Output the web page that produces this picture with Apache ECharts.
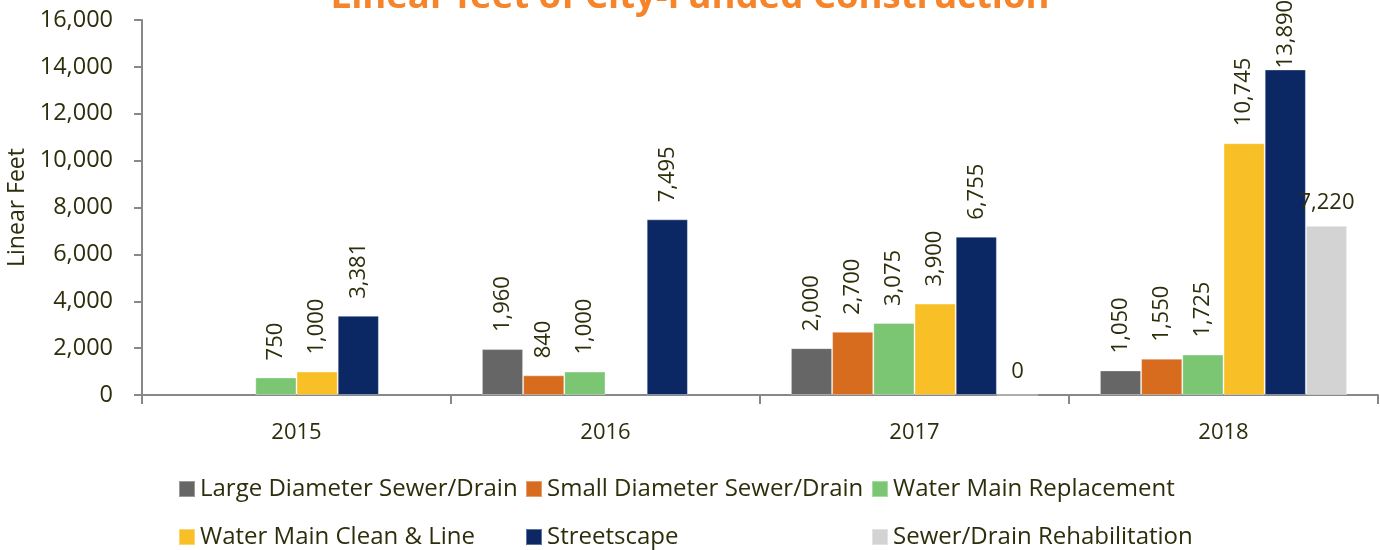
<!DOCTYPE html>
<html>
<head>
<meta charset="utf-8">
<title>Linear feet of City-Funded Construction</title>
<script src="https://cdn.jsdelivr.net/npm/echarts@6/dist/echarts.min.js"></script>
<style>
  html, body { margin: 0; padding: 0; background: #fff; }
  #chart { width: 1380px; height: 550px; }
</style>
</head>
<body>
<div id="chart"></div>
<script>
// years on the x axis
const years = ['2015', '2016', '2017', '2018']

// series values (null = no bar)
const largeDiameter = [null, 1960, 2000, 1050]
const smallDiameter = [null, 840, 2700, 1550]
const waterMainReplacement = [750, 1000, 3075, 1725]
const waterMainCleanLine = [1000, null, 3900, 10745]
const streetscape = [3381, 7495, 6755, 13890]
const sewerRehab = [null, null, 0, 7220]

const seriesNames = [
  'Large Diameter Sewer/Drain',
  'Small Diameter Sewer/Drain',
  'Water Main Replacement',
  'Water Main Clean & Line',
  'Streetscape',
  'Sewer/Drain Rehabilitation'
]
const seriesColors = ['#666666', '#D76B1E', '#7AC673', '#F8BF26', '#0B2864', '#D3D3D3']
const seriesData = [largeDiameter, smallDiameter, waterMainReplacement, waterMainCleanLine, streetscape, sewerRehab]

const textColor = '#2E2E0C'
const font = 'Open Sans'

function fmt (v) {
  return v.toLocaleString('en-US')
}

function buildData (values, i) {
  return values.map(function (v, j) {
    if (v === null) return null
    // sewer rehab labels are flat in the original
    if (i === 5) {
      return { value: v, label: { rotate: 0, align: 'center', verticalAlign: 'bottom', distance: 12 } }
    }
    // 2018 streetscape label hugs the bar top (no room above)
    if (i === 4 && j === 3) {
      return { value: v, label: { distance: 1 } }
    }
    return v
  })
}

const series = seriesData.map(function (values, i) {
  return {
    name: seriesNames[i],
    type: 'bar',
    data: buildData(values, i),
    barGap: 0,
    barCategoryGap: '20%',
    itemStyle: { color: seriesColors[i], borderColor: 'rgba(255,255,255,0.35)', borderWidth: 1 },
    label: {
      show: true,
      position: 'top',
      rotate: 90,
      align: 'left',
      verticalAlign: 'middle',
      distance: 17,
      color: textColor,
      fontFamily: font,
      fontSize: 22,
      formatter: function (p) { return fmt(p.value) }
    }
  }
})

// one legend per entry to keep the grid of columns
const legendPos = [
  [178, 477], [525, 477], [871, 477],
  [178, 525], [525, 525], [871, 525]
]
const legends = seriesNames.map(function (name, i) {
  return {
    data: [name],
    left: legendPos[i][0],
    top: legendPos[i][1],
    padding: 0,
    itemWidth: 16,
    itemHeight: 16,
    itemGap: 0,
    icon: 'rect',
    selectedMode: false,
    textStyle: { color: textColor, fontFamily: font, fontSize: 24, padding: [0, 0, 0, 0] }
  }
})

const chart = echarts.init(document.getElementById('chart'))
chart.setOption({
  animation: false,
  title: {
    text: 'Linear feet of City-Funded Construction',
    left: 'center',
    top: -26,
    textStyle: { color: '#F5842A', fontFamily: font, fontSize: 36.5, fontWeight: 'bold' }
  },
  legend: legends,
  grid: { left: 142, right: 2, top: 20, bottom: 155, containLabel: false, outerBoundsMode: 'none' },
  xAxis: {
    type: 'category',
    data: years,
    axisLine: { lineStyle: { color: '#888888', width: 2 } },
    axisTick: { show: true, length: 9, lineStyle: { color: '#888888', width: 2 } },
    axisLabel: { color: textColor, fontFamily: font, fontSize: 22, margin: 27 }
  },
  yAxis: {
    type: 'value',
    min: 0,
    max: 16000,
    interval: 2000,
    name: 'Linear Feet',
    nameLocation: 'middle',
    nameGap: 108,
    nameTextStyle: { color: textColor, fontFamily: font, fontSize: 23 },
    axisLine: { show: true, lineStyle: { color: '#888888', width: 2 } },
    axisTick: { show: true, length: 8, lineStyle: { color: '#888888', width: 2 } },
    splitLine: { show: false },
    axisLabel: {
      color: textColor,
      fontFamily: font,
      fontSize: 23.5,
      margin: 29,
      formatter: function (v) { return fmt(v) }
    }
  },
  series: series
})
</script>
</body>
</html>
